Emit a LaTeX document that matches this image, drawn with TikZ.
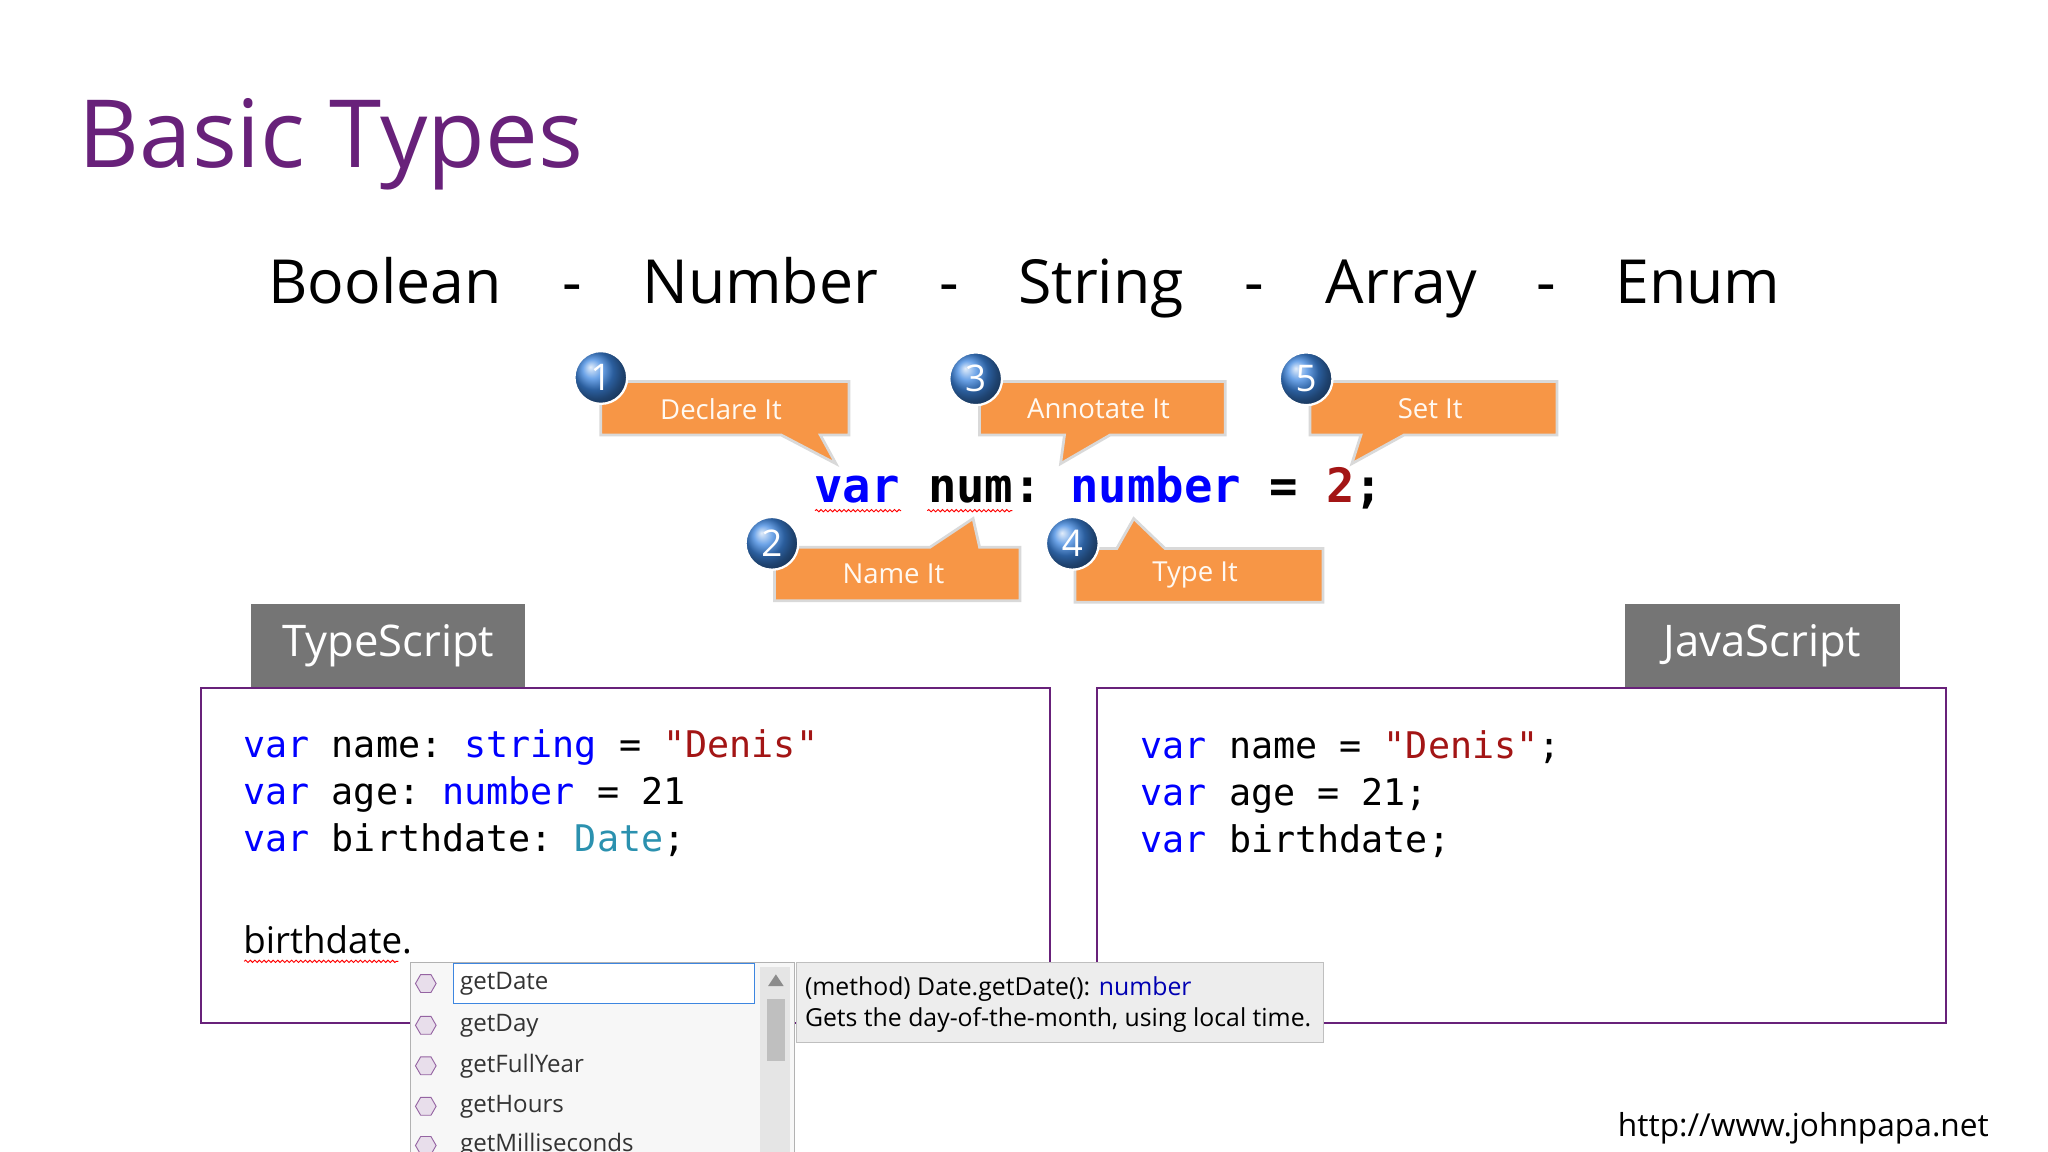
\documentclass[tikz,border=0pt]{standalone}
\usepackage{fontspec}
\setmainfont{Open Sans}
\setmonofont{DejaVu Sans Mono}
\usetikzlibrary{decorations.pathmorphing,shapes.geometric}
\definecolor{purp}{HTML}{68217A}
\definecolor{org}{HTML}{F79646}
\definecolor{kw}{HTML}{0000FF}
\definecolor{str}{HTML}{A31515}
\definecolor{typ}{HTML}{2B91AF}
\definecolor{tabg}{HTML}{757575}
\definecolor{ball}{HTML}{3D86E0}
\tikzset{
  calloutbox/.style={fill=org,draw=white!85!black,line width=1.2pt},
  ball/.style={circle,ball color=ball,draw=white,line width=1pt,minimum size=23pt,inner sep=0pt,text=white,font=\fontsize{16}{16}\selectfont},
  clabel/.style={text=white!95!orange,font=\fontsize{12}{12}\selectfont},
  tab/.style={fill=tabg,text=white,font=\fontsize{19}{19}\selectfont,minimum width=4.2cm,minimum height=1.28cm},
  panel/.style={draw=purp,line width=1pt},
  code/.style={anchor=base west,font=\ttfamily\fontsize{16}{16}\selectfont,inner sep=0pt},
  item/.style={anchor=west,font=\fontsize{10.5}{10.5}\selectfont,text=black!80,inner sep=0pt},
  ico/.style={regular polygon,regular polygon sides=6,draw=purp!70,fill=purp!15,minimum size=9pt,inner sep=0pt},
  types/.style={anchor=base,font=\fontsize{26.5}{26.5}\selectfont},
  squig/.style={draw=red,line width=0.4pt,decorate,decoration={snake,amplitude=0.5pt,segment length=2pt}}
}
\begin{document}
\begin{tikzpicture}[x=0.02cm,y=-0.02cm]
\useasboundingbox (0,0) rectangle (1568,882);
\fill[white] (0,0) rectangle (1568,882);
\node[anchor=base west,text=purp,font=\fontsize{41}{41}\selectfont,inner sep=0pt] (title) at (60,128) {Basic Types};
\node[types] (t1) at (295,232) {Boolean};
\node[types] (d1) at (438,232) {-};
\node[types] (t2) at (582,232) {Number};
\node[types] (d2) at (727,232) {-};
\node[types] (t3) at (843,232) {String};
\node[types] (d3) at (960,232) {-};
\node[types] (t4) at (1073,232) {Array};
\node[types] (d4) at (1184,232) {-};
\node[types] (t5) at (1300,232) {Enum};
% callouts
\draw[calloutbox] (460,292) -- (650,292) -- (650,333) -- (628,333) -- (640,355) -- (598,333) -- (460,333) -- cycle;
\draw[calloutbox] (750,292) -- (938,292) -- (938,333) -- (850,333) -- (812,355) -- (815,333) -- (750,333) -- cycle;
\draw[calloutbox] (1003,292) -- (1192,292) -- (1192,333) -- (1075,333) -- (1035,355) -- (1042,333) -- (1003,333) -- cycle;
\draw[calloutbox] (593,419) -- (712,419) -- (745,397) -- (750,419) -- (781,419) -- (781,460) -- (593,460) -- cycle;
\draw[calloutbox] (823,420) -- (855,420) -- (868,397) -- (892,420) -- (1013,420) -- (1013,461) -- (823,461) -- cycle;
\node[clabel] (l1) at (552,313) {Declare It};
\node[clabel] (l3) at (841,313) {Annotate It};
\node[clabel] (l5) at (1095,313) {Set It};
\node[clabel] (l2) at (684,439) {Name It};
\node[clabel] (l4) at (915,440) {Type It};
\node[ball] (b1) at (460,289) {1};
\node[ball] (b3) at (747,290) {3};
\node[ball] (b5) at (1000,290) {5};
\node[ball] (b2) at (591,416) {2};
\node[ball] (b4) at (821,416) {4};
\node[anchor=base west,inner sep=0pt,font=\ttfamily\bfseries\fontsize{20.6}{20.6}\selectfont] (decl) at (623,385) {\textcolor{kw}{var} num: \textcolor{kw}{number} = \textcolor{str}{2};};
\draw[squig] (624,391) -- (690,391);
\draw[squig] (710,391) -- (775,391);
% tabs & panels
\node[tab,anchor=north west] (tst) at (192,462) {TypeScript};
\node[tab,anchor=north west] (jst) at (1244,462) {JavaScript};
\draw[panel] (154,527) rectangle (804,783);
\draw[panel] (840,527) rectangle (1490,783);
\node[code] (c1) at (186,580) {\textcolor{kw}{var} name: \textcolor{kw}{string} = \textcolor{str}{"Denis"}};
\node[code] (c2) at (186,616) {\textcolor{kw}{var} age: \textcolor{kw}{number} = 21};
\node[code] (c3) at (186,652) {\textcolor{kw}{var} birthdate: \textcolor{typ}{Date};};
\node[anchor=base west,inner sep=0pt,font=\fontsize{16}{16}\selectfont] (bd) at (186,730) {birthdate.};
\draw[squig] (187,736) -- (305,736);
\node[code] (j1) at (873,581) {\textcolor{kw}{var} name = \textcolor{str}{"Denis"};};
\node[code] (j2) at (873,617) {\textcolor{kw}{var} age = 21;};
\node[code] (j3) at (873,653) {\textcolor{kw}{var} birthdate;};
% autocomplete
\fill[black!3] (314,737) rectangle (608,882);
\draw[black!30] (314,882) -- (314,737) -- (608,737) -- (608,882);
\fill[black!10] (582,740) rectangle (605,882);
\fill[black!25] (587,765) rectangle (601,812);
\fill[black!45] (588,755) -- (600,755) -- (594,746) -- cycle;
\draw[draw=ball,fill=white] (347,738) rectangle (578,768);
\foreach \y/\t [count=\i] in {753/getDate,785/getDay,816/getFullYear,847/getHours,877/getMilliseconds}{
  \node[ico] (ic\i) at (326,\y) {};
  \node[item] (it\i) at (352,\y) {\t};
}
% tooltip
\draw[fill=black!7,draw=black!25] (610,737) rectangle (1013,798);
\node[anchor=base west,inner sep=0pt,font=\fontsize{10.8}{10.8}\selectfont] (tp1) at (616,762) {(method) Date.getDate(): \textcolor{kw!70!black}{number}};
\node[anchor=base west,inner sep=0pt,font=\fontsize{10.8}{10.8}\selectfont] (tp2) at (616,786) {Gets the day-of-the-month, using local time.};
\node[anchor=base east,inner sep=0pt,font=\fontsize{13.8}{13.8}\selectfont] (url) at (1523,870) {http://www.johnpapa.net};
\end{tikzpicture}
\end{document}
